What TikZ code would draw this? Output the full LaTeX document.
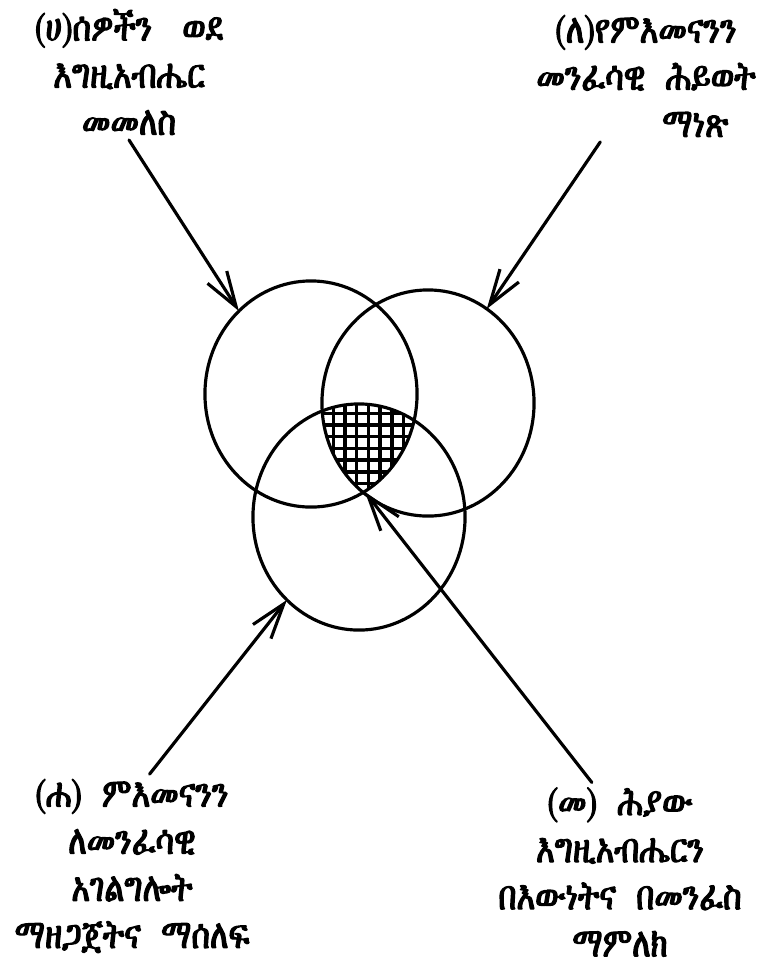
\documentclass[tikz,border=0pt]{standalone}
\usepackage{fontspec}
\IfFontExistsTF{FreeSerif}
  {\newfontfamily\ethfont[FakeBold=3,FakeStretch=0.78]{FreeSerif}}
  {\IfFontExistsTF{Abyssinica SIL}
    {\newfontfamily\ethfont[FakeBold=3,FakeStretch=0.78]{Abyssinica SIL}}
    {\newfontfamily\ethfont{DejaVu Sans}}}
\usetikzlibrary{arrows.meta,shapes.geometric}

\begin{document}
\begin{tikzpicture}[
    x=0.01cm, y=-0.01cm,
    line cap=round,
    line join=round,
    line width=0.9pt,
    ring/.style={ellipse, draw, minimum width=2.12cm, minimum height=2.26cm,
      inner sep=0pt, outer sep=0pt},
    lbl/.style={align=center, inner sep=1pt,
      font=\ethfont\fontsize{11.5}{13.4}\selectfont},
    arr/.style={-{Straight Barb[length=10pt,width=6.5pt]}}
  ]

  \useasboundingbox (0,0) rectangle (764,960);

  % the three circles
  \node[ring] (circA) at (311,394) {};
  \node[ring] (circB) at (428,403) {};
  \node[ring] (circC) at (359,517) {};
  \coordinate (meetAB) at (365,492);

  % shared part, cross hatched
  \begin{scope}
    \clip (311,394) ellipse[x radius=106,y radius=113];
    \clip (428,403) ellipse[x radius=106,y radius=113];
    \clip (359,517) ellipse[x radius=106,y radius=113];
    \foreach \k in {0,...,9} {
      \draw[line width=1pt] (321.6+11.7*\k,380) -- ++(0,140);
      \draw[line width=1pt] (300,401.6+11.7*\k) -- ++(140,0);
    }
  \end{scope}

  % labels
  \node[lbl] (lblH) at (129,72) {(ሀ)ሰዎችን\hspace{0.55em} ወደ\\እግዚአብሔር\\መመለስ};
  \node[lbl] (lblL) at (646,76) {(ለ)የምእመናንን\\መንፈሳዊ\enspace ሕይወት\\\hspace*{28pt}ማነጽ};
  \node[lbl] (lblHa) at (132,866) {(ሐ)\enspace ምእመናንን\\ለመንፈሳዊ\\አገልግሎት\\ማዘጋጀትና\enspace ማሰለፍ};
  \node[lbl] (lblMe) at (620,872) {(መ)\enspace ሕያው\\እግዚአብሔርን\\በእውነትና\enspace በመንፈስ\\ማምለክ};

  % arrows
  \draw[arr] (lblH.south) -- (circA.131);
  \draw[arr] ([xshift=-13pt]lblL.south) -- (circB.58);
  \draw[arr] ([xshift=5pt]lblHa.north) -- (circC.229);
  \draw[arr] ([xshift=-8pt]lblMe.north) -- (meetAB);

\end{tikzpicture}
\end{document}
